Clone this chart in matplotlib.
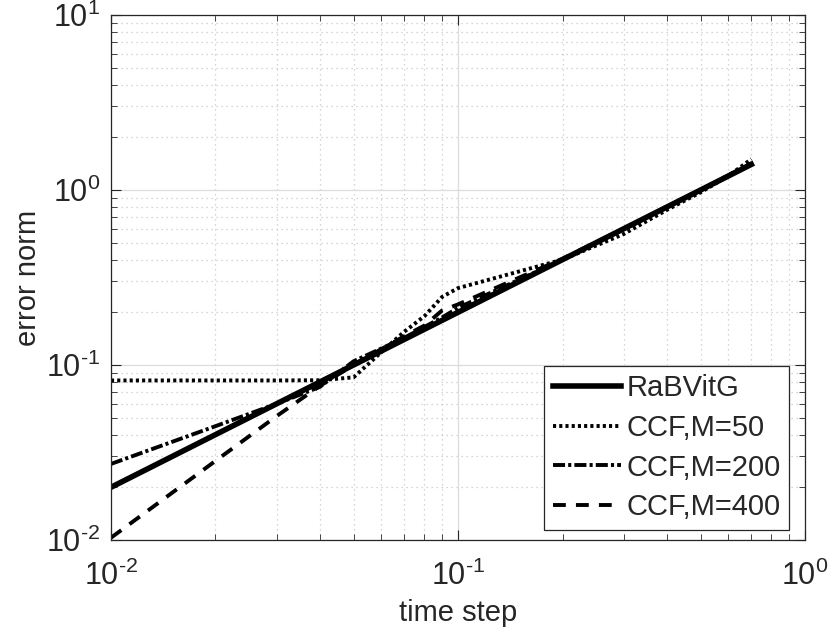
import numpy as np
import matplotlib
matplotlib.use('Agg')
from matplotlib import pyplot as plt
from matplotlib.ticker import LogLocator, NullFormatter, FuncFormatter

# time steps used in the convergence test
dt = [0.01, 0.02, 0.03, 0.04, 0.05, 0.06, 0.07, 0.08, 0.09, 0.1,
      0.2, 0.3, 0.4, 0.5, 0.6, 0.7]

# error norms
err_rabvitg = [0.020, 0.040, 0.060, 0.080, 0.100, 0.120, 0.140, 0.160, 0.180, 0.200,
               0.400, 0.600, 0.800, 1.000, 1.200, 1.400]
err_m50 = [0.0816, 0.0816, 0.0816, 0.0818, 0.085, 0.118, 0.155, 0.190, 0.245, 0.275,
           0.400, 0.560, 0.770, 0.970, 1.200, 1.500]
err_m200 = [0.0272, 0.0447, 0.060, 0.075, 0.105, 0.124, 0.143, 0.165, 0.187, 0.212,
            0.400, 0.600, 0.800, 1.000, 1.210, 1.420]
err_m400 = [0.0103, 0.0283, 0.051, 0.076, 0.100, 0.123, 0.146, 0.168, 0.205, 0.222,
            0.405, 0.600, 0.800, 1.000, 1.210, 1.420]

labels = ['RaBVitG', 'CCF,M=50', 'CCF,M=200', 'CCF,M=400']

txt = '#262626'
plt.rcParams['font.family'] = ['Liberation Sans', 'DejaVu Sans']
plt.rcParams['mathtext.fontset'] = 'custom'
plt.rcParams['mathtext.rm'] = 'Liberation Sans'
plt.rcParams['mathtext.it'] = 'Liberation Sans'
plt.rcParams['font.size'] = 21


def pow10(v, pos):
    # matlab style label, short hyphen in the exponent
    e = int(round(np.log10(v)))
    if e < 0:
        return r'$10^{\text{-}%d}$' % (-e)
    return r'$10^{%d}$' % e


fig = plt.figure(figsize=(8.3, 6.43), dpi=100)
ax = fig.add_axes([0.1337, 0.1602, 0.8363, 0.8165])

ax.loglog(dt, err_rabvitg, color='k', lw=4.0, linestyle='-', label=labels[0])
ax.loglog(dt, err_m50, color='k', lw=2.8, linestyle=(0, (0.8, 0.8)), label=labels[1])
ax.loglog(dt, err_m200, color='k', lw=2.8, linestyle=(0, (3.1, 0.8, 0.8, 0.8)), label=labels[2])
ax.loglog(dt, err_m400, color='k', lw=2.8, linestyle=(0, (3.3, 2.6)), label=labels[3])

ax.set_xlim(1e-2, 1e0)
ax.set_ylim(1e-2, 1e1)

ax.xaxis.set_major_formatter(FuncFormatter(pow10))
ax.yaxis.set_major_formatter(FuncFormatter(pow10))
ax.xaxis.set_minor_locator(LogLocator(base=10, subs=np.arange(2, 10)))
ax.yaxis.set_minor_locator(LogLocator(base=10, subs=np.arange(2, 10)))
ax.xaxis.set_minor_formatter(NullFormatter())
ax.yaxis.set_minor_formatter(NullFormatter())

ax.grid(True, which='major', color='#dcdcdc', linestyle='-', lw=0.9)
ax.grid(True, which='minor', color='#c8c8c8', linestyle=(0, (1, 3)), lw=0.9)
ax.set_axisbelow(True)

ax.tick_params(which='both', direction='in', top=True, right=True, colors=txt,
               labelcolor=txt)
ax.tick_params(which='major', length=7, width=0.8, labelsize=22)
ax.tick_params(which='minor', length=4, width=0.6)
ax.tick_params(axis='x', which='major', pad=15)
ax.tick_params(axis='y', which='major', pad=8)
for s in ax.spines.values():
    s.set_color(txt)
    s.set_linewidth(0.9)

ax.set_xlabel('time step', color=txt)
ax.set_ylabel('error norm', color=txt)
ax.xaxis.set_label_coords(0.5, -0.112)
ax.yaxis.set_label_coords(-0.1, 0.5)

leg = ax.legend(loc='lower right', bbox_to_anchor=(0.977, 0.019), borderaxespad=0,
                fancybox=False, edgecolor=txt, framealpha=1, handlelength=2.35,
                handletextpad=0.17, labelspacing=0.4, borderpad=0.3)
leg.get_frame().set_linewidth(0.9)
for t in leg.get_texts():
    t.set_color(txt)

fig.savefig('out.png', dpi=100)
